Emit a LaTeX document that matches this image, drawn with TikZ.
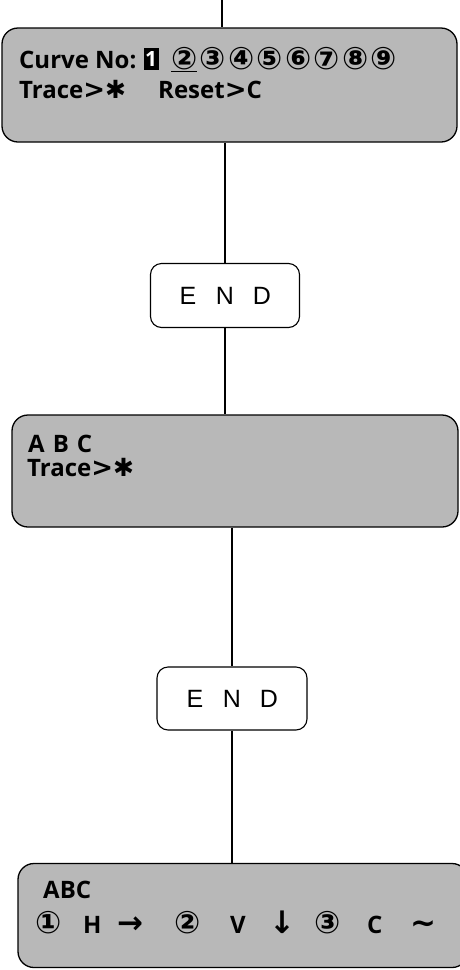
\documentclass[tikz,border=0pt]{standalone}
\usepackage{fontspec}
\setmainfont{Open Sans}
\newfontfamily\symfont{DejaVu Sans}
\newfontfamily\endfont{Liberation Sans}
\newcommand{\cdig}[1]{\makebox[28.5pt][l]{\symfont\bfseries\fontsize{31}{31}\selectfont #1}}
\newcommand{\bsym}[1]{{\symfont\bfseries\fontsize{31}{31}\selectfont #1}}
\newcommand{\mystar}{{\symfont\bfseries\fontsize{25}{25}\selectfont ✱}}
\newcommand{\mygt}{{\symfont\bfseries\fontsize{26}{26}\selectfont >}}
\newcommand{\spaced}[1]{\makebox[37pt]{#1}}
\begin{document}
\begin{tikzpicture}[x=1pt,y=-1pt,
  panel/.style={draw=black, line width=1.3pt, fill=black!28, rounded corners=16pt, inner sep=0pt},
  endbox/.style={draw=black, line width=1.1pt, fill=white, rounded corners=11pt, inner sep=0pt, minimum width=149pt, minimum height=64pt},
  txt/.style={anchor=base west, inner sep=0pt, font=\fontsize{24}{26}\selectfont\bfseries},
  link/.style={line width=1.2pt}]
\useasboundingbox (0,0) rectangle (460,970);
\begin{scope}
\clip (0,0) rectangle (460,970);
% panels
\node[panel, minimum width=455pt, minimum height=114pt] (p1) at (229.5,85) {};
\node[endbox] (e1) at (225,295.5) {};
\node[panel, minimum width=446pt, minimum height=112pt] (p2) at (235,471) {};
\node[endbox, minimum width=150pt, minimum height=63pt] (e2) at (232,698.5) {};
\node[panel, minimum width=450pt, minimum height=104pt] (p3) at (243,915.5) {};
\end{scope}
\coordinate (top) at (222,0);
\draw[link] (top) -- (top |- p1.north);
\draw[link] (p1.south -| e1.north) -- (e1.north);
\draw[link] (e1.south) -- (e1.south |- p2.north);
\draw[link] (p2.south -| e2.north) -- (e2.north);
\draw[link] (e2.south) -- (e2.south |- p3.north);
% END labels
\node[inner sep=0pt, font=\endfont\fontsize{25}{25}\selectfont] (e1t) at (e1.center) {\spaced{E}\spaced{N}\spaced{D}};
\node[inner sep=0pt, font=\endfont\fontsize{25}{25}\selectfont] (e2t) at (e2.center) {\spaced{E}\spaced{N}\spaced{D}};
% panel 1 text
\node[txt] (c1) at (19,68) {Curve No:};
\node[fill=black, text=white, inner sep=0pt, anchor=center, font=\fontsize{21}{21}\selectfont\bfseries, minimum height=22pt, minimum width=15pt] (c1one) at (151,59) {1};
\node[anchor=base west, inner sep=0pt] (c1d) at (171,69) {\cdig{\underline{②}}\cdig{③}\cdig{④}\cdig{⑤}\cdig{⑥}\cdig{⑦}\cdig{⑧}\cdig{⑨}};
\node[txt] (c1t) at (19,98) {Trace\mygt\mystar};
\node[txt] (c1r) at (158,98) {Reset\mygt C};
% panel 2 text
\node[txt] (c2a) at (28,452) {A\,\,B\,\,C};
\node[txt] (c2t) at (27,476) {Trace\mygt\mystar};
% panel 3 text
\node[txt] (c3a) at (43,898) {ABC};
\node[anchor=base west, inner sep=0pt, font=\fontsize{24}{26}\selectfont\bfseries] (c3b) at (35,933)
  {\makebox[48pt][l]{\bsym{①}}\makebox[34pt][l]{H}\makebox[57pt][l]{\bsym{→}}\makebox[56pt][l]{\bsym{②}}\makebox[39pt][l]{V}\makebox[45pt][l]{\bsym{↓}}\makebox[53pt][l]{\bsym{③}}\makebox[43pt][l]{C}\bsym{\textasciitilde}};
\end{tikzpicture}
\end{document}
